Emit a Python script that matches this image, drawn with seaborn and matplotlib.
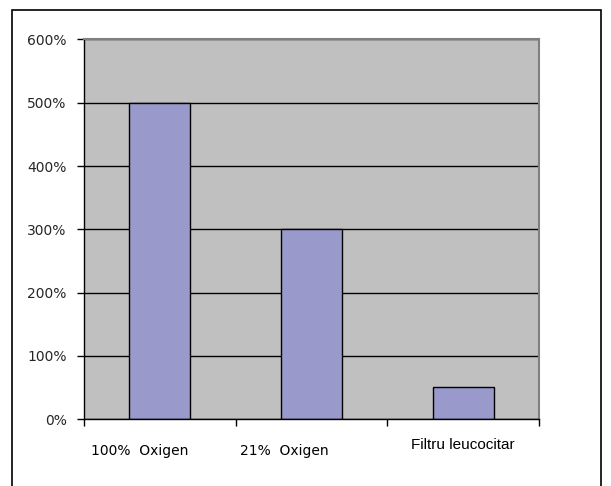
import matplotlib
matplotlib.use("Agg")
import matplotlib.pyplot as plt
from matplotlib.patches import Rectangle
from matplotlib.ticker import FuncFormatter
import seaborn as sns
import pandas as pd

# Chart data
categories = ["100%  Oxigen", "21%  Oxigen", "Filtru leucocitar"]
values = [500, 300, 50]
y_ticks = [0, 100, 200, 300, 400, 500, 600]

df = pd.DataFrame({"grup": categories, "valoare": values})

sns.set_style("white")
plt.rcParams["font.family"] = ["DejaVu Sans"]

fig = plt.figure(figsize=(6.11, 4.86), dpi=100)
fig.patch.set_facecolor("white")
ax = fig.add_axes([84 / 611, 1 - 419 / 486, (539 - 84) / 611, (419 - 39.5) / 486])
ax.set_facecolor("#C0C0C0")

sns.barplot(data=df, x="grup", y="valoare", ax=ax, width=0.4,
            color="#9999CC", saturation=1, edgecolor="black", linewidth=1.0)

ax.set_xlim(-0.5, 2.5)
ax.set_ylim(0, 600)
ax.set_axisbelow(True)

# y axis: percent labels with black gridlines
ax.set_yticks(y_ticks)
ax.yaxis.set_major_formatter(FuncFormatter(lambda v, _: f"{int(v)}%"))
ax.tick_params(axis="y", length=5, width=1, color="black", pad=7.5,
               labelsize=10, left=True, direction="out")
ax.yaxis.grid(True, color="black", linewidth=1)
ax.xaxis.grid(False)

# x axis: tick marks at the category boundaries, labels placed below
ax.set_xticks([-0.5, 0.5, 1.5, 2.5])
ax.set_xticklabels([])
ax.tick_params(axis="x", length=5, width=1, color="black", bottom=True,
               direction="out")
ax.set_xlabel("")
ax.set_ylabel("")

label_specs = [
    (categories[0], -0.5 + 0.045, -0.095, "left", ["DejaVu Sans"], 10),
    (categories[1], 0.5 + 0.03, -0.095, "left", ["DejaVu Sans"], 10),
    (categories[2], 2.0, -0.079, "center", ["Liberation Sans"], 11),
]
for text, xpos, ypos, ha, fam, size in label_specs:
    ax.text(xpos, ypos, text, transform=ax.get_xaxis_transform(),
            ha=ha, va="baseline", fontsize=size, family=fam, color="black")

for side in ["left", "bottom"]:
    ax.spines[side].set_color("black")
    ax.spines[side].set_linewidth(1)
for side in ["top", "right"]:
    ax.spines[side].set_visible(True)
    ax.spines[side].set_color("#808080")
    ax.spines[side].set_linewidth(1.5)

# outer chart border
fig.patches.append(Rectangle((12 / 611, -0.1), (601 - 12) / 611, 1 - 10 / 486 + 0.1,
                             transform=fig.transFigure, fill=False,
                             edgecolor="black", linewidth=1.2))

fig.savefig("out.png", dpi=100)
